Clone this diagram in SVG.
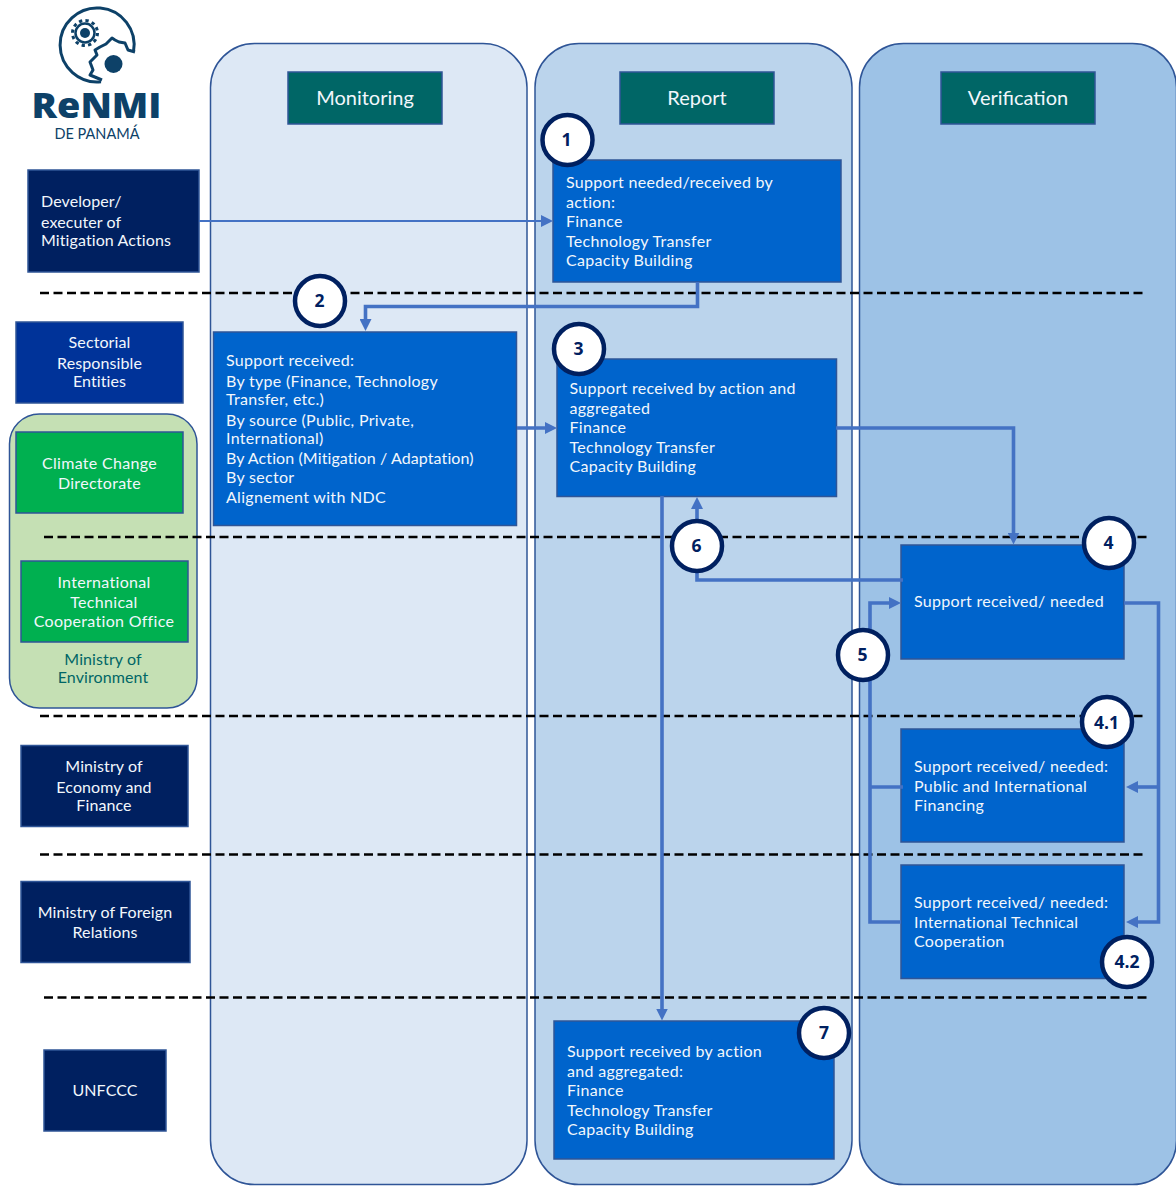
<svg xmlns="http://www.w3.org/2000/svg" width="1176" height="1192" viewBox="0 0 1176 1192">
<style>
text{font-family:Lato,"Noto Sans",sans-serif;font-size:16px;letter-spacing:.3px;fill:#f2f7fc}
.t{letter-spacing:.1px}
.hd{fill:#006666;stroke:#2f5597;stroke-width:1.5}
.hdt{font-size:20px;letter-spacing:0;text-anchor:middle}
.lane{stroke:#2f5597;stroke-width:1.5}
.b{fill:#0064cc;stroke:#2f5597;stroke-width:1.5}
.n{fill:#002060;stroke:#2f5597;stroke-width:1.5}
.g{fill:#00b050;stroke:#2f5597;stroke-width:1.5}
.c{text-anchor:middle}
.d{fill:none;stroke:#000;stroke-width:2.4;stroke-dasharray:9 4.5}
.k{fill:none;stroke:#4472c4;stroke-width:3.6}
.k1{fill:none;stroke:#4472c4;stroke-width:2.2}
.ah{fill:#4472c4}
.o{fill:#fff;stroke:#002060;stroke-width:4.5}
.ot{font-family:"Open Sans",sans-serif;font-weight:700;font-size:17.5px;letter-spacing:0;fill:#002060;text-anchor:middle}
.lg{fill:none;stroke:#0d4168;stroke-width:3}
</style>
<defs>
<marker id="a" viewBox="0 0 10 10" refX="5" refY="5" markerWidth="12" markerHeight="12" markerUnits="userSpaceOnUse" orient="auto"><path class="ah" d="M0 0L10 5L0 10Z"/></marker>
</defs>
<rect width="1176" height="1192" fill="#fff"/>

<g id="logo">
<path class="lg" d="M101 81.700A37 37 0 1 1 133.500 51.500"/>
<path class="lg" stroke-linejoin="round" d="M135 52L128 50L125 43L119 42L115 40L112 38L106 44L100 47L95 50L97 55L90 62L93 70L90 75L102 80"/>
<circle cx="85" cy="33" r="9.500" fill="none" stroke="#0d4168" stroke-width="2.500"/>
<circle cx="85" cy="33" r="12.500" fill="none" stroke="#0d4168" stroke-width="3" stroke-dasharray="3.300 3.250"/>
<circle cx="85" cy="33" r="5" fill="#0d4168"/>
<circle cx="113.500" cy="64" r="9" fill="#0d4168"/>
<text x="31.500" y="118" textLength="130" lengthAdjust="spacingAndGlyphs" style="font-family:'Open Sans',sans-serif;font-weight:800;font-size:36px;letter-spacing:0;fill:#0d4168">ReNMI</text>
<text x="97" y="138.500" text-anchor="middle" style="font-size:14.500px;letter-spacing:0;fill:#0d4168">DE PANAMÁ</text>
</g>

<g id="lane-monitoring"><rect class="lane" x="210.500" y="43.500" width="316.500" height="1141" rx="44" fill="#dde8f5"/></g>
<g id="lane-report"><rect class="lane" x="535" y="43.500" width="317" height="1141" rx="44" fill="#bbd4ec"/></g>
<g id="lane-verification"><rect class="lane" x="859.500" y="43.500" width="317" height="1141" rx="44" fill="#9dc2e6"/></g>

<g id="head-monitoring"><rect class="hd" x="288" y="72" width="154" height="52"/><text class="hdt" x="365" y="105">Monitoring</text></g>
<g id="head-report"><rect class="hd" x="620" y="72" width="154" height="52"/><text class="hdt" x="697" y="105">Report</text></g>
<g id="head-verification"><rect class="hd" x="941" y="72" width="154" height="52"/><text class="hdt" x="1018" y="105">Verification</text></g>

<g id="actor-developer"><rect class="n" x="28" y="170" width="171" height="102"/><text class="t" x="41" y="207">Developer/</text><text class="t" x="41" y="228">executer of</text><text class="t" x="41" y="246">Mitigation Actions</text></g>
<g id="actor-sectorial"><rect x="16" y="322" width="167" height="81" fill="#003399" stroke="#2f5597" stroke-width="1.500"/><text class="c t" x="99.500" y="348">Sectorial</text><text class="c t" x="99.500" y="369">Responsible</text><text class="c t" x="99.500" y="387">Entities</text></g>
<g id="ministry-environment"><rect x="9.500" y="414" width="187.500" height="294" rx="30" fill="#c5e0b4" stroke="#2f5597" stroke-width="1.500"/><text class="c t" x="103" y="665" style="fill:#006666">Ministry of</text><text class="c t" x="103" y="683" style="fill:#006666">Environment</text></g>
<g id="actor-climate"><rect class="g" x="16" y="432" width="167" height="81"/><text class="c" x="99.500" y="469">Climate Change</text><text class="c" x="99.500" y="489">Directorate</text></g>
<g id="actor-itco"><rect class="g" x="21" y="561" width="167" height="81"/><text class="c" x="104" y="588">International</text><text class="c" x="104" y="608">Technical</text><text class="c" x="104" y="627">Cooperation Office</text></g>
<g id="actor-mef"><rect class="n" x="21" y="745.500" width="167" height="81"/><text class="c t" x="104" y="772">Ministry of</text><text class="c t" x="104" y="793">Economy and</text><text class="c t" x="104" y="811">Finance</text></g>
<g id="actor-mfr"><rect class="n" x="21" y="881.500" width="169" height="81"/><text class="c t" x="105" y="918">Ministry of Foreign</text><text class="c t" x="105" y="938">Relations</text></g>
<g id="actor-unfccc"><rect class="n" x="44" y="1050" width="122" height="81"/><text class="c t" x="105" y="1096">UNFCCC</text></g>

<g id="separators">
<path class="d" d="M40 293H1146"/>
<path class="d" d="M44 537H1150"/>
<path class="d" d="M40 716H1146"/>
<path class="d" d="M40 854.500H1146"/>
<path class="d" d="M44 997.500H1150"/>
</g>

<g id="box-1"><rect class="b" x="553" y="160" width="288" height="122"/><text x="566" y="188">Support needed/received by</text><text x="566" y="208">action:</text><text x="566" y="227">Finance</text><text x="566" y="247">Technology Transfer</text><text x="566" y="266">Capacity Building</text></g>
<g id="box-2"><rect class="b" x="213.500" y="332" width="303" height="193.500"/><text x="226" y="366">Support received:</text><text x="226" y="387">By type (Finance, Technology</text><text x="226" y="405">Transfer, etc.)</text><text x="226" y="426">By source (Public, Private,</text><text x="226" y="444">International)</text><text class="t" x="226" y="464">By Action (Mitigation / Adaptation)</text><text x="226" y="483">By sector</text><text x="226" y="503">Alignement with NDC</text></g>
<g id="box-3"><rect class="b" x="557" y="359" width="279.500" height="137.500"/><text x="569.500" y="394">Support received by action and</text><text x="569.500" y="414">aggregated</text><text x="569.500" y="433">Finance</text><text x="569.500" y="453">Technology Transfer</text><text x="569.500" y="472">Capacity Building</text></g>
<g id="box-4"><rect class="b" x="901" y="545" width="223" height="114"/><text x="914" y="607">Support received/ needed</text></g>
<g id="box-41"><rect class="b" x="901" y="729" width="223" height="113"/><text x="914" y="772">Support received/ needed:</text><text x="914" y="792">Public and International</text><text x="914" y="811">Financing</text></g>
<g id="box-42"><rect class="b" x="901" y="865" width="223" height="113.500"/><text x="914" y="908">Support received/ needed:</text><text x="914" y="928">International Technical</text><text x="914" y="947">Cooperation</text></g>
<g id="box-7"><rect class="b" x="554" y="1021" width="280" height="138"/><text x="567" y="1057">Support received by action</text><text x="567" y="1077">and aggregated:</text><text x="567" y="1096">Finance</text><text x="567" y="1116">Technology Transfer</text><text x="567" y="1135">Capacity Building</text></g>

<g id="connectors">
<path class="k1" d="M199 221H547" marker-end="url(#a)"/>
<path class="k" d="M697.500 282V306.500H365.500V325" marker-end="url(#a)"/>
<path class="k" d="M517 428H551" marker-end="url(#a)"/>
<path class="k" d="M836 428H1013.500V538.500" marker-end="url(#a)"/>
<path class="k" d="M903 580H697V503" marker-end="url(#a)"/>
<path class="k" d="M662 496V1014.500" marker-end="url(#a)"/>
<path class="k" d="M901 922H870V603H895" marker-end="url(#a)"/>
<path class="k" d="M870 787H903"/>
<path class="k" d="M1124 603H1158.500V922H1132" marker-end="url(#a)"/>
<path class="k" d="M1158.500 787H1132" marker-end="url(#a)"/>
</g>

<g id="badge-1"><circle class="o" cx="567.500" cy="140" r="25"/><text class="ot" x="566.500" y="146">1</text></g>
<g id="badge-2"><circle class="o" cx="320" cy="301" r="25"/><text class="ot" x="319.500" y="307">2</text></g>
<g id="badge-3"><circle class="o" cx="579" cy="349" r="25"/><text class="ot" x="578.500" y="355">3</text></g>
<g id="badge-4"><circle class="o" cx="1109" cy="543" r="25"/><text class="ot" x="1108.500" y="549">4</text></g>
<g id="badge-41"><circle class="o" cx="1107" cy="722" r="25"/><text class="ot" x="1106.500" y="729">4.1</text></g>
<g id="badge-42"><circle class="o" cx="1127" cy="962" r="25"/><text class="ot" x="1127" y="968">4.2</text></g>
<g id="badge-5"><circle class="o" cx="863" cy="655" r="25"/><text class="ot" x="862.500" y="661">5</text></g>
<g id="badge-6"><circle class="o" cx="697" cy="546" r="25"/><text class="ot" x="696.500" y="552">6</text></g>
<g id="badge-7"><circle class="o" cx="824" cy="1033" r="25"/><text class="ot" x="824" y="1039">7</text></g>
</svg>
